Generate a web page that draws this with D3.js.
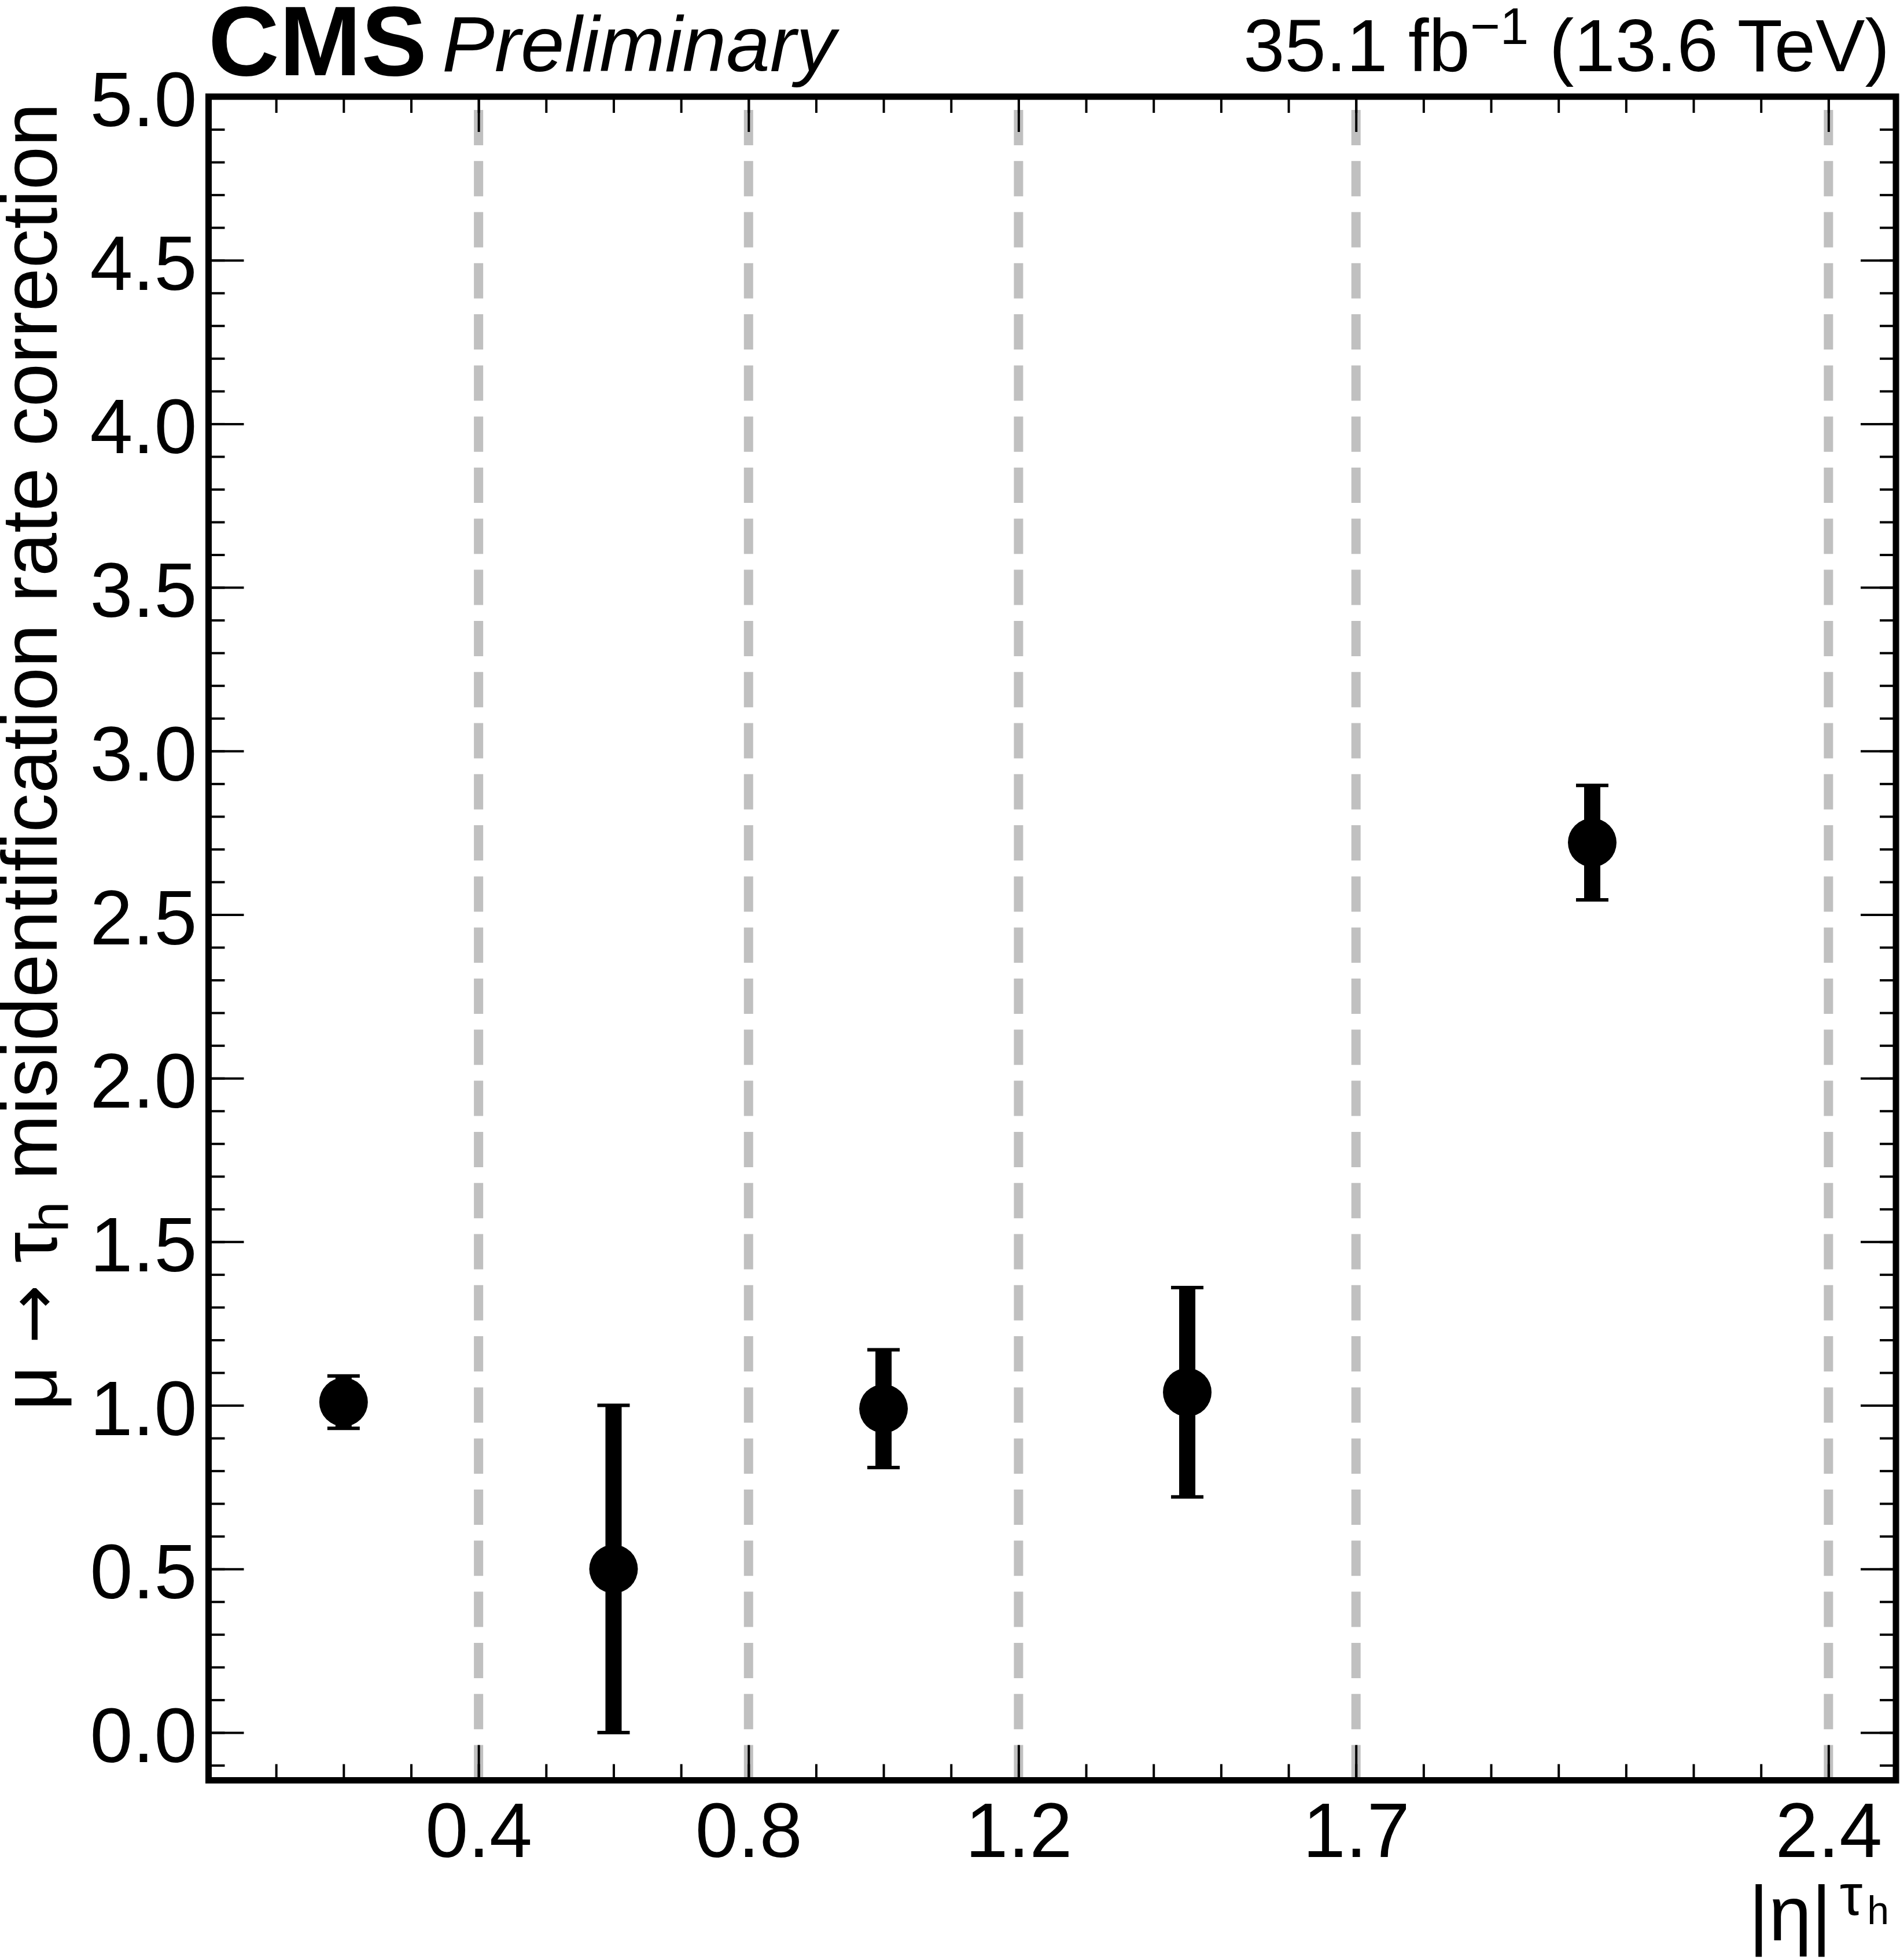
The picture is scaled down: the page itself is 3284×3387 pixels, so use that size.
<!DOCTYPE html>
<html><head><meta charset="utf-8">
<script src="https://cdn.jsdelivr.net/npm/d3@7"></script>
<style>html,body{margin:0;padding:0;background:#fff;} svg{display:block;}</style>
</head><body>
<script>
// ---- data ----
const xBinEdges   = [0.4, 0.8, 1.2, 1.7, 2.4];
const xTickLabels = ["0.4", "0.8", "1.2", "1.7", "2.4"];
const etaCenters  = [0.2, 0.6, 1.0, 1.45, 2.05];
const corrValues  = [1.01, 0.50, 0.99, 1.04, 2.72];
const corrErrUp   = [0.08, 0.50, 0.18, 0.32, 0.175];
const corrErrDown = [0.08, 0.50, 0.18, 0.32, 0.175];
const yTickValues = [0, 0.5, 1.0, 1.5, 2.0, 2.5, 3.0, 3.5, 4.0, 4.5, 5.0];
const yTickLabels = ["0.0", "0.5", "1.0", "1.5", "2.0", "2.5", "3.0", "3.5", "4.0", "4.5", "5.0"];
const xDomain = [0, 2.5];
const yDomain = [-0.146, 5.0];

// ---- layout ----
const W = 3284, H = 3387;
const L = 360.5, R = 3277, T = 167, B = 3076.5;
const FONT = '"Liberation Sans", Arial, Helvetica, sans-serif';

const x = d3.scaleLinear().domain(xDomain).range([L, R]);
const y = d3.scaleLinear().domain(yDomain).range([B, T]);

const svg = d3.select("body").append("svg").attr("width", W).attr("height", H);
svg.append("rect").attr("width", W).attr("height", H).attr("fill", "#fff");

// dashed bin boundaries
svg.append("g").selectAll("line").data(xBinEdges).join("line")
  .attr("x1", d => x(d)).attr("x2", d => x(d))
  .attr("y1", y(yDomain[0])).attr("y2", y(yDomain[1]))
  .attr("stroke", "#c0c0c0").attr("stroke-width", 16)
  .attr("stroke-dasharray", "61 27.3");

// points with error bars
const pts = etaCenters.map((e, i) => ({x: e, v: corrValues[i], up: corrErrUp[i], dn: corrErrDown[i]}));
const gp = svg.append("g");
gp.selectAll("line.stem").data(pts).join("line").attr("class", "stem")
  .attr("x1", d => x(d.x)).attr("x2", d => x(d.x))
  .attr("y1", d => y(d.v + d.up)).attr("y2", d => y(d.v - d.dn))
  .attr("stroke", "#000").attr("stroke-width", 28);
gp.selectAll("line.capu").data(pts).join("line").attr("class", "capu")
  .attr("x1", d => x(d.x) - 28).attr("x2", d => x(d.x) + 28)
  .attr("y1", d => y(d.v + d.up)).attr("y2", d => y(d.v + d.up))
  .attr("stroke", "#000").attr("stroke-width", 6);
gp.selectAll("line.capd").data(pts).join("line").attr("class", "capd")
  .attr("x1", d => x(d.x) - 28).attr("x2", d => x(d.x) + 28)
  .attr("y1", d => y(d.v - d.dn)).attr("y2", d => y(d.v - d.dn))
  .attr("stroke", "#000").attr("stroke-width", 6);
gp.selectAll("circle").data(pts).join("circle")
  .attr("cx", d => x(d.x)).attr("cy", d => y(d.v)).attr("r", 42).attr("fill", "#000");

// axes
function styleAxis(g) {
  g.select(".domain").remove();
  g.attr("font-family", FONT).attr("font-size", 133);
  g.selectAll("line").attr("stroke", "#000").attr("stroke-width", 4);
  g.selectAll("text").attr("fill", "#000");
}
const yMinor = y.ticks(50);
const xMinor = x.ticks(25);

svg.append("g").attr("transform", `translate(${L},0)`)
  .call(d3.axisLeft(y).tickValues(yMinor).tickSizeInner(-28).tickSizeOuter(0).tickFormat(""))
  .call(styleAxis);
svg.append("g").attr("transform", `translate(${R},0)`)
  .call(d3.axisRight(y).tickValues(yMinor).tickSizeInner(-28).tickSizeOuter(0).tickFormat(""))
  .call(styleAxis);
svg.append("g").attr("transform", `translate(0,${B})`)
  .call(d3.axisBottom(x).tickValues(xMinor).tickSizeInner(-28).tickSizeOuter(0).tickFormat(""))
  .call(styleAxis);
svg.append("g").attr("transform", `translate(0,${T})`)
  .call(d3.axisTop(x).tickValues(xMinor).tickSizeInner(-28).tickSizeOuter(0).tickFormat(""))
  .call(styleAxis);

const gyl = svg.append("g").attr("transform", `translate(${L},0)`)
  .call(d3.axisLeft(y).tickValues(yTickValues).tickSizeInner(-61).tickSizeOuter(0).tickPadding(20)
    .tickFormat((d, i) => yTickLabels[i]))
  .call(styleAxis);
gyl.selectAll("text").attr("dy", "0.38em");
svg.append("g").attr("transform", `translate(${R},0)`)
  .call(d3.axisRight(y).tickValues(yTickValues).tickSizeInner(-61).tickSizeOuter(0).tickFormat(""))
  .call(styleAxis);
svg.append("g").attr("transform", `translate(0,${B})`)
  .call(d3.axisBottom(x).tickValues(xBinEdges).tickSizeInner(-61).tickSizeOuter(0).tickPadding(38)
    .tickFormat((d, i) => xTickLabels[i]))
  .call(styleAxis);
svg.append("g").attr("transform", `translate(0,${T})`)
  .call(d3.axisTop(x).tickValues(xBinEdges).tickSizeInner(-61).tickSizeOuter(0).tickFormat(""))
  .call(styleAxis);

// frame
svg.append("rect").attr("x", L).attr("y", T).attr("width", R - L).attr("height", B - T)
  .attr("fill", "none").attr("stroke", "#000").attr("stroke-width", 11);

// header texts
svg.append("text").attr("x", 360).attr("y", 130).attr("font-family", FONT)
  .attr("font-weight", "bold").attr("font-size", 170).text("CMS");
svg.append("text").attr("x", 764).attr("y", 123).attr("font-family", FONT)
  .attr("font-style", "italic").attr("font-size", 136).text("Preliminary");
const lumi = svg.append("text").attr("x", 3266).attr("y", 123).attr("text-anchor", "end")
  .attr("font-family", FONT).attr("font-size", 128);
lumi.append("tspan").text("35.1 fb");
lumi.append("tspan").attr("font-size", 89).attr("dy", -47).text("\u22121");
lumi.append("tspan").attr("dy", 47).text(" (13.6 TeV)");

// y title
const yt = svg.append("text").attr("transform", "translate(98,178) rotate(-90)")
  .attr("text-anchor", "end").attr("font-family", FONT).attr("font-size", 135);
yt.append("tspan").text("\u03BC ");
yt.append("tspan").attr("font-family", '"DejaVu Sans", sans-serif').attr("font-size", 122).text("\u2192");
yt.append("tspan").text(" \u03C4");
yt.append("tspan").attr("font-size", 95).attr("dy", 20).text("h");
yt.append("tspan").attr("dy", -20).text(" misidentification rate correction");

// x title
const xt = svg.append("text").attr("x", 3265).attr("y", 3353).attr("text-anchor", "end")
  .attr("font-family", FONT).attr("font-size", 133);
xt.append("tspan").text("|\u03B7|");
xt.append("tspan").attr("font-size", 100).attr("dy", -44).attr("dx", 14).text("\u03C4");
xt.append("tspan").attr("font-size", 68).attr("dy", 16).attr("dx", 8).text("h");
</script>
</body></html>
